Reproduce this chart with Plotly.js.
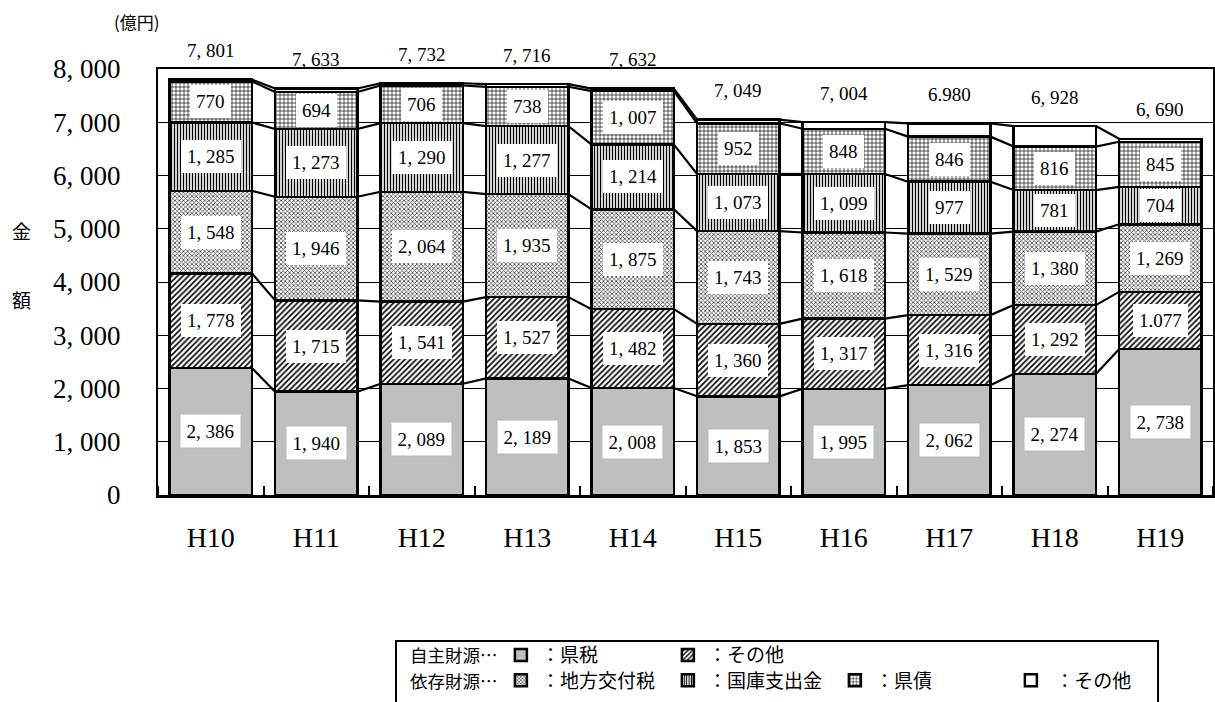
<!DOCTYPE html>
<html><head><meta charset="utf-8">
<script src="https://cdn.plot.ly/plotly-3.0.1.min.js"></script>
<style>body{margin:0;background:#fff}#chart{width:1215px;height:702px}</style>
</head><body><div id="chart"></div>
<script>
// ---- data (億円) ----
const years = ['H10','H11','H12','H13','H14','H15','H16','H17','H18','H19'];
const kenzei       = [2386,1940,2089,2189,2008,1853,1995,2062,2274,2738]; // 自主財源：県税
const jishuOther   = [1778,1715,1541,1527,1482,1360,1317,1316,1292,1077]; // 自主財源：その他
const chihoKofuzei = [1548,1946,2064,1935,1875,1743,1618,1529,1380,1269]; // 依存財源：地方交付税
const kokkoShishutsu = [1285,1273,1290,1277,1214,1073,1099,977,781,704];  // 依存財源：国庫支出金
const kensai       = [770,694,706,738,1007,952,848,846,816,845];          // 依存財源：県債
const izonOther    = [34,65,42,50,46,68,127,250,385,57];                  // 依存財源：その他
const totals       = [7801,7633,7732,7716,7632,7049,7004,6980,6928,6690];
const totalLabels  = ['7, 801','7, 633','7, 732','7, 716','7, 632','7, 049','7, 004','6.980','6, 928','6, 690'];
const yTickVals    = [0,1000,2000,3000,4000,5000,6000,7000,8000];
const yTickText    = ['0','1, 000','2, 000','3, 000','4, 000','5, 000','6, 000','7, 000','8, 000'];

const xIdx = years.map((_, i) => i);
const BW = 0.78;
const serif = 'Liberation Serif, Times New Roman, serif';
const jp = 'Noto Sans CJK JP, sans-serif';

function fmt(v){ const s = String(v); return s.length > 3 ? s.slice(0, s.length-3) + ', ' + s.slice(-3) : s; }

const series = [
  {name:'：県税', y:kenzei, legend:'legend', color:'#bfbfbf', pattern:null, label:true, boxed:true},
  {name:'：その他', y:jishuOther, legend:'legend', color:'#fff', pattern:{shape:'/', size:4, solidity:0.4}, label:true},
  {name:'：地方交付税', y:chihoKofuzei, legend:'legend2', color:'#fff', pattern:{shape:'x', size:3, solidity:0.45, fgcolor:'#3a3a3a'}, label:true},
  {name:'：国庫支出金', y:kokkoShishutsu, legend:'legend2', color:'#fff', pattern:{shape:'|', size:3, solidity:0.45}, label:true},
  {name:'：県債', y:kensai, legend:'legend2', color:'#fff', pattern:{shape:'+', size:4, solidity:0.3}, label:true, lw:131},
  {name:' ：その他', y:izonOther, legend:'legend2', color:'#fff', pattern:null, label:false}
];

const traces = [];
series.forEach(s => {
  const m = {color:s.color, line:{color:'#000', width:2.5}};
  if (s.pattern) m.pattern = Object.assign({fgcolor:'#000', bgcolor:'#fff', fillmode:'replace'}, s.pattern);
  const t = {type:'bar', x:xIdx, y:s.y, name:s.name, legend:s.legend, marker:m, width:BW, hoverinfo:'skip'};
  if (s.lw) t.legendwidth = s.lw;
  traces.push(t);
});

// cumulative boundaries and connector lines between bars
const cum = [];
let run = years.map(() => 0);
series.forEach(s => { run = run.map((v,i) => v + s.y[i]); cum.push(run.slice()); });
const cx = [], cy = [];
cum.forEach(level => {
  for (let i = 0; i < years.length - 1; i++) {
    cx.push(i + BW/2, i + 1 - BW/2, null);
    cy.push(level[i], level[i+1], null);
  }
});
traces.push({type:'scatter', mode:'lines', x:cx, y:cy, line:{color:'#000', width:2.2},
  showlegend:false, hoverinfo:'skip', cliponaxis:false});

const annotations = [];
// segment labels
let base = years.map(() => 0);
series.forEach((s, k) => {
  years.forEach((yr, i) => {
    if (s.label) {
      let txt = fmt(s.y[i]);
      if (k === 1 && yr === 'H19') txt = '1.077';
      annotations.push({x:i, y:base[i] + s.y[i]/2, xref:'x', yref:'y', text:txt, showarrow:false,
        font:{family:serif, size:19, color:'#000'}, bgcolor:'#fff', borderpad:6,
        bordercolor: s.boxed ? '#bbb' : 'rgba(0,0,0,0)', borderwidth: s.boxed ? 1.5 : 0});
    }
  });
  base = base.map((v,i) => v + s.y[i]);
});
// totals
years.forEach((yr, i) => {
  annotations.push({x:i, y:totals[i], xref:'x', yref:'y', text:totalLabels[i], showarrow:false,
    yshift:29, yanchor:'middle', font:{family:serif, size:19, color:'#000'}});
});
// axis titles & legend prefixes
const txtA = (x, y, text, size, xa) => ({xref:'paper', yref:'paper', x:x, y:y, xanchor:xa || 'center', yanchor:'middle',
  align:'left', borderpad:0, text:text, showarrow:false, font:{family:jp, size:size, color:'#000'}});
annotations.push(txtA(-0.129, 0.62, '金', 19));
annotations.push(txtA(-0.129, 0.458, '額', 19));
annotations.push(txtA(-0.02, 1.112, '(億円)', 17));
annotations.push(txtA(0.2375, -0.3744, '自主財源…', 17.5, 'left'));
annotations.push(txtA(0.2375, -0.4354, '依存財源…', 17.5, 'left'));

const legendCommon = {orientation:'h', xanchor:'left', yanchor:'middle', bgcolor:'rgba(0,0,0,0)',
  borderwidth:0, font:{family:jp, size:19, color:'#000'}, entrywidth:122, entrywidthmode:'pixels',
  itemclick:false, itemdoubleclick:false, traceorder:'normal'};

const layout = {
  width:1215, height:702,
  margin:{l:158, r:2, t:69, b:207},
  paper_bgcolor:'#fff', plot_bgcolor:'#fff',
  barmode:'stack',
  showlegend:true,
  xaxis:{type:'linear', range:[-0.5, 9.5], tickvals:xIdx, ticktext:years, ticks:'',
    showline:true, linecolor:'#000', linewidth:2.5, mirror:true,
    minor:{tickmode:'linear', tick0:-0.5, dtick:1, ticks:'inside', ticklen:9, tickwidth:2, tickcolor:'#000', showgrid:false},
    tickfont:{family:serif, size:28, color:'#000'}, ticklabelstandoff:16, showgrid:false, zeroline:false, fixedrange:true},
  yaxis:{range:[0, 8000], tickvals:yTickVals, ticktext:yTickText, showline:true, linecolor:'#000',
    linewidth:2, mirror:true, showgrid:true, gridcolor:'#000', gridwidth:1, ticks:'', zeroline:false,
    tickfont:{family:serif, size:27, color:'#000'}, ticklabelstandoff:30, fixedrange:true},
  legend: Object.assign({x:0.325, y:-0.376}, legendCommon),
  legend2: Object.assign({x:0.325, y:-0.435}, legendCommon),
  annotations: annotations,
  shapes:[{type:'rect', xref:'paper', yref:'paper', x0:0.2256, x1:0.9479, y0:-0.343, y1:-0.52,
    line:{color:'#000', width:2}, fillcolor:'rgba(0,0,0,0)', layer:'below'}]
};

Plotly.newPlot('chart', traces, layout, {displayModeBar:false, staticPlot:true});
</script></body></html>
